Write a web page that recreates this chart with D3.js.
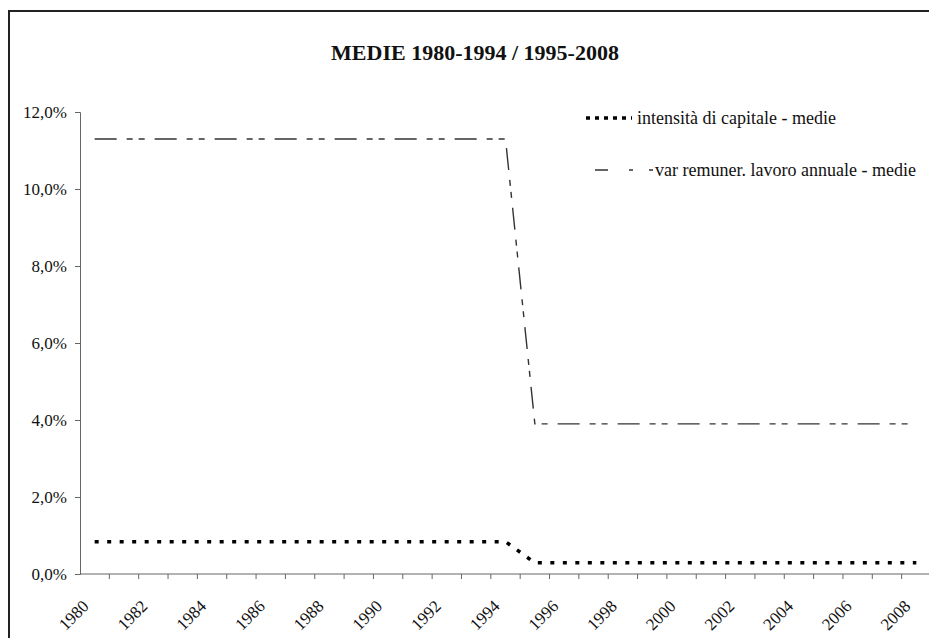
<!DOCTYPE html>
<html>
<head>
<meta charset="utf-8">
<script src="https://cdn.jsdelivr.net/npm/d3@7"></script>
<style>
  body { margin: 0; background: #fff; }
  svg { display: block; font-family: "Liberation Serif", "Times New Roman", serif; }
</style>
</head>
<body>
<div id="chart"></div>
<script>
// anni sull'asse x
const years = [1980, 1981, 1982, 1983, 1984, 1985, 1986, 1987, 1988, 1989,
  1990, 1991, 1992, 1993, 1994, 1995, 1996, 1997, 1998, 1999,
  2000, 2001, 2002, 2003, 2004, 2005, 2006, 2007, 2008]

// intensità di capitale - medie (%)
const capitale = [0.84, 0.84, 0.84, 0.84, 0.84, 0.84, 0.84, 0.84, 0.84, 0.84,
  0.84, 0.84, 0.84, 0.84, 0.84, 0.29, 0.29, 0.29, 0.29, 0.29,
  0.29, 0.29, 0.29, 0.29, 0.29, 0.29, 0.29, 0.29, 0.29]

// var remuner. lavoro annuale - medie (%)
const remuner = [11.3, 11.3, 11.3, 11.3, 11.3, 11.3, 11.3, 11.3, 11.3, 11.3,
  11.3, 11.3, 11.3, 11.3, 11.3, 3.9, 3.9, 3.9, 3.9, 3.9,
  3.9, 3.9, 3.9, 3.9, 3.9, 3.9, 3.9, 3.9, 3.9]

const yTicks = [0, 2, 4, 6, 8, 10, 12]
const seriesNames = ['intensità di capitale - medie', 'var remuner. lavoro annuale - medie']

const W = 929, H = 638
const svg = d3.select('#chart')
  .append('svg')
  .attr('width', W)
  .attr('height', H)

// cornice del grafico (tagliata a destra e in basso)
svg.append('path')
  .attr('d', `M9,${H + 5} L9,11 L${W + 5},11`)
  .attr('fill', 'none')
  .attr('stroke', '#222')
  .attr('stroke-width', 2)

const plotL = 80, plotR = 931, plotT = 112, plotB = 574

const x = d3.scaleBand()
  .domain(years)
  .range([plotL, plotR])

const y = d3.scaleLinear()
  .domain([0, 12])
  .range([plotB, plotT])

const fmt = v => d3.format('.1f')(v).replace('.', ',') + '%'

// asse y
const yAxis = svg.append('g')
  .attr('transform', `translate(${plotL},0)`)
  .call(d3.axisLeft(y).tickValues(yTicks).tickFormat(fmt).tickSize(5).tickPadding(8))
yAxis.select('.domain').attr('stroke', '#666')
yAxis.selectAll('.tick line').attr('stroke', '#666')
yAxis.selectAll('.tick text')
  .attr('font-family', '"Liberation Serif", serif')
  .attr('font-size', 17)
  .attr('fill', '#111')

// asse x: tacche tra le categorie
const xAxis = svg.append('g')
  .attr('transform', `translate(0,${plotB})`)
xAxis.append('line')
  .attr('x1', plotL).attr('x2', plotR)
  .attr('stroke', '#666')
xAxis.selectAll('line.tk')
  .data(years)
  .enter()
  .append('line')
  .attr('class', 'tk')
  .attr('x1', d => x(d) + x.bandwidth())
  .attr('x2', d => x(d) + x.bandwidth())
  .attr('y2', 5)
  .attr('stroke', '#666')

xAxis.selectAll('text')
  .data(years.filter(d => d % 2 === 0))
  .enter()
  .append('text')
  .attr('transform', d => `translate(${x(d) + x.bandwidth() / 2 - 9},${29}) rotate(-45)`)
  .attr('text-anchor', 'end')
  .attr('dy', '0.35em')
  .attr('font-size', 17)
  .attr('fill', '#111')
  .text(d => d)

const line = d3.line()
  .x((d, i) => x(years[i]) + x.bandwidth() / 2)
  .y(d => y(d))

// tratto lungo, punto, punto
const dashLong = '22,10,6,6,6,10'

svg.append('path')
  .datum(remuner)
  .attr('d', line)
  .attr('fill', 'none')
  .attr('stroke', '#333')
  .attr('stroke-width', 1.4)
  .attr('stroke-dasharray', dashLong)

svg.append('path')
  .datum(capitale)
  .attr('d', line)
  .attr('fill', 'none')
  .attr('stroke', '#000')
  .attr('stroke-width', 3.5)
  .attr('stroke-dasharray', '4,8.5')

// titolo
svg.append('text')
  .attr('x', 475)
  .attr('y', 60)
  .attr('text-anchor', 'middle')
  .attr('font-weight', 'bold')
  .attr('font-size', 22)
  .attr('fill', '#111')
  .text('MEDIE 1980-1994 / 1995-2008')

// legenda
const legend = svg.append('g')
legend.append('line')
  .attr('x1', 586).attr('x2', 632)
  .attr('y1', 118).attr('y2', 118)
  .attr('stroke', '#000')
  .attr('stroke-width', 3.5)
  .attr('stroke-dasharray', '4,5')
legend.append('text')
  .attr('x', 637).attr('y', 118)
  .attr('dy', '0.35em')
  .attr('font-size', 18)
  .attr('fill', '#111')
  .text(seriesNames[0])

legend.append('line')
  .attr('x1', 595).attr('x2', 653)
  .attr('y1', 170).attr('y2', 170)
  .attr('stroke', '#333')
  .attr('stroke-width', 1.4)
  .attr('stroke-dasharray', '13,21,4,16,4')
legend.append('text')
  .attr('x', 655).attr('y', 170)
  .attr('dy', '0.35em')
  .attr('font-size', 18)
  .attr('fill', '#111')
  .text(seriesNames[1])
</script>
</body>
</html>
